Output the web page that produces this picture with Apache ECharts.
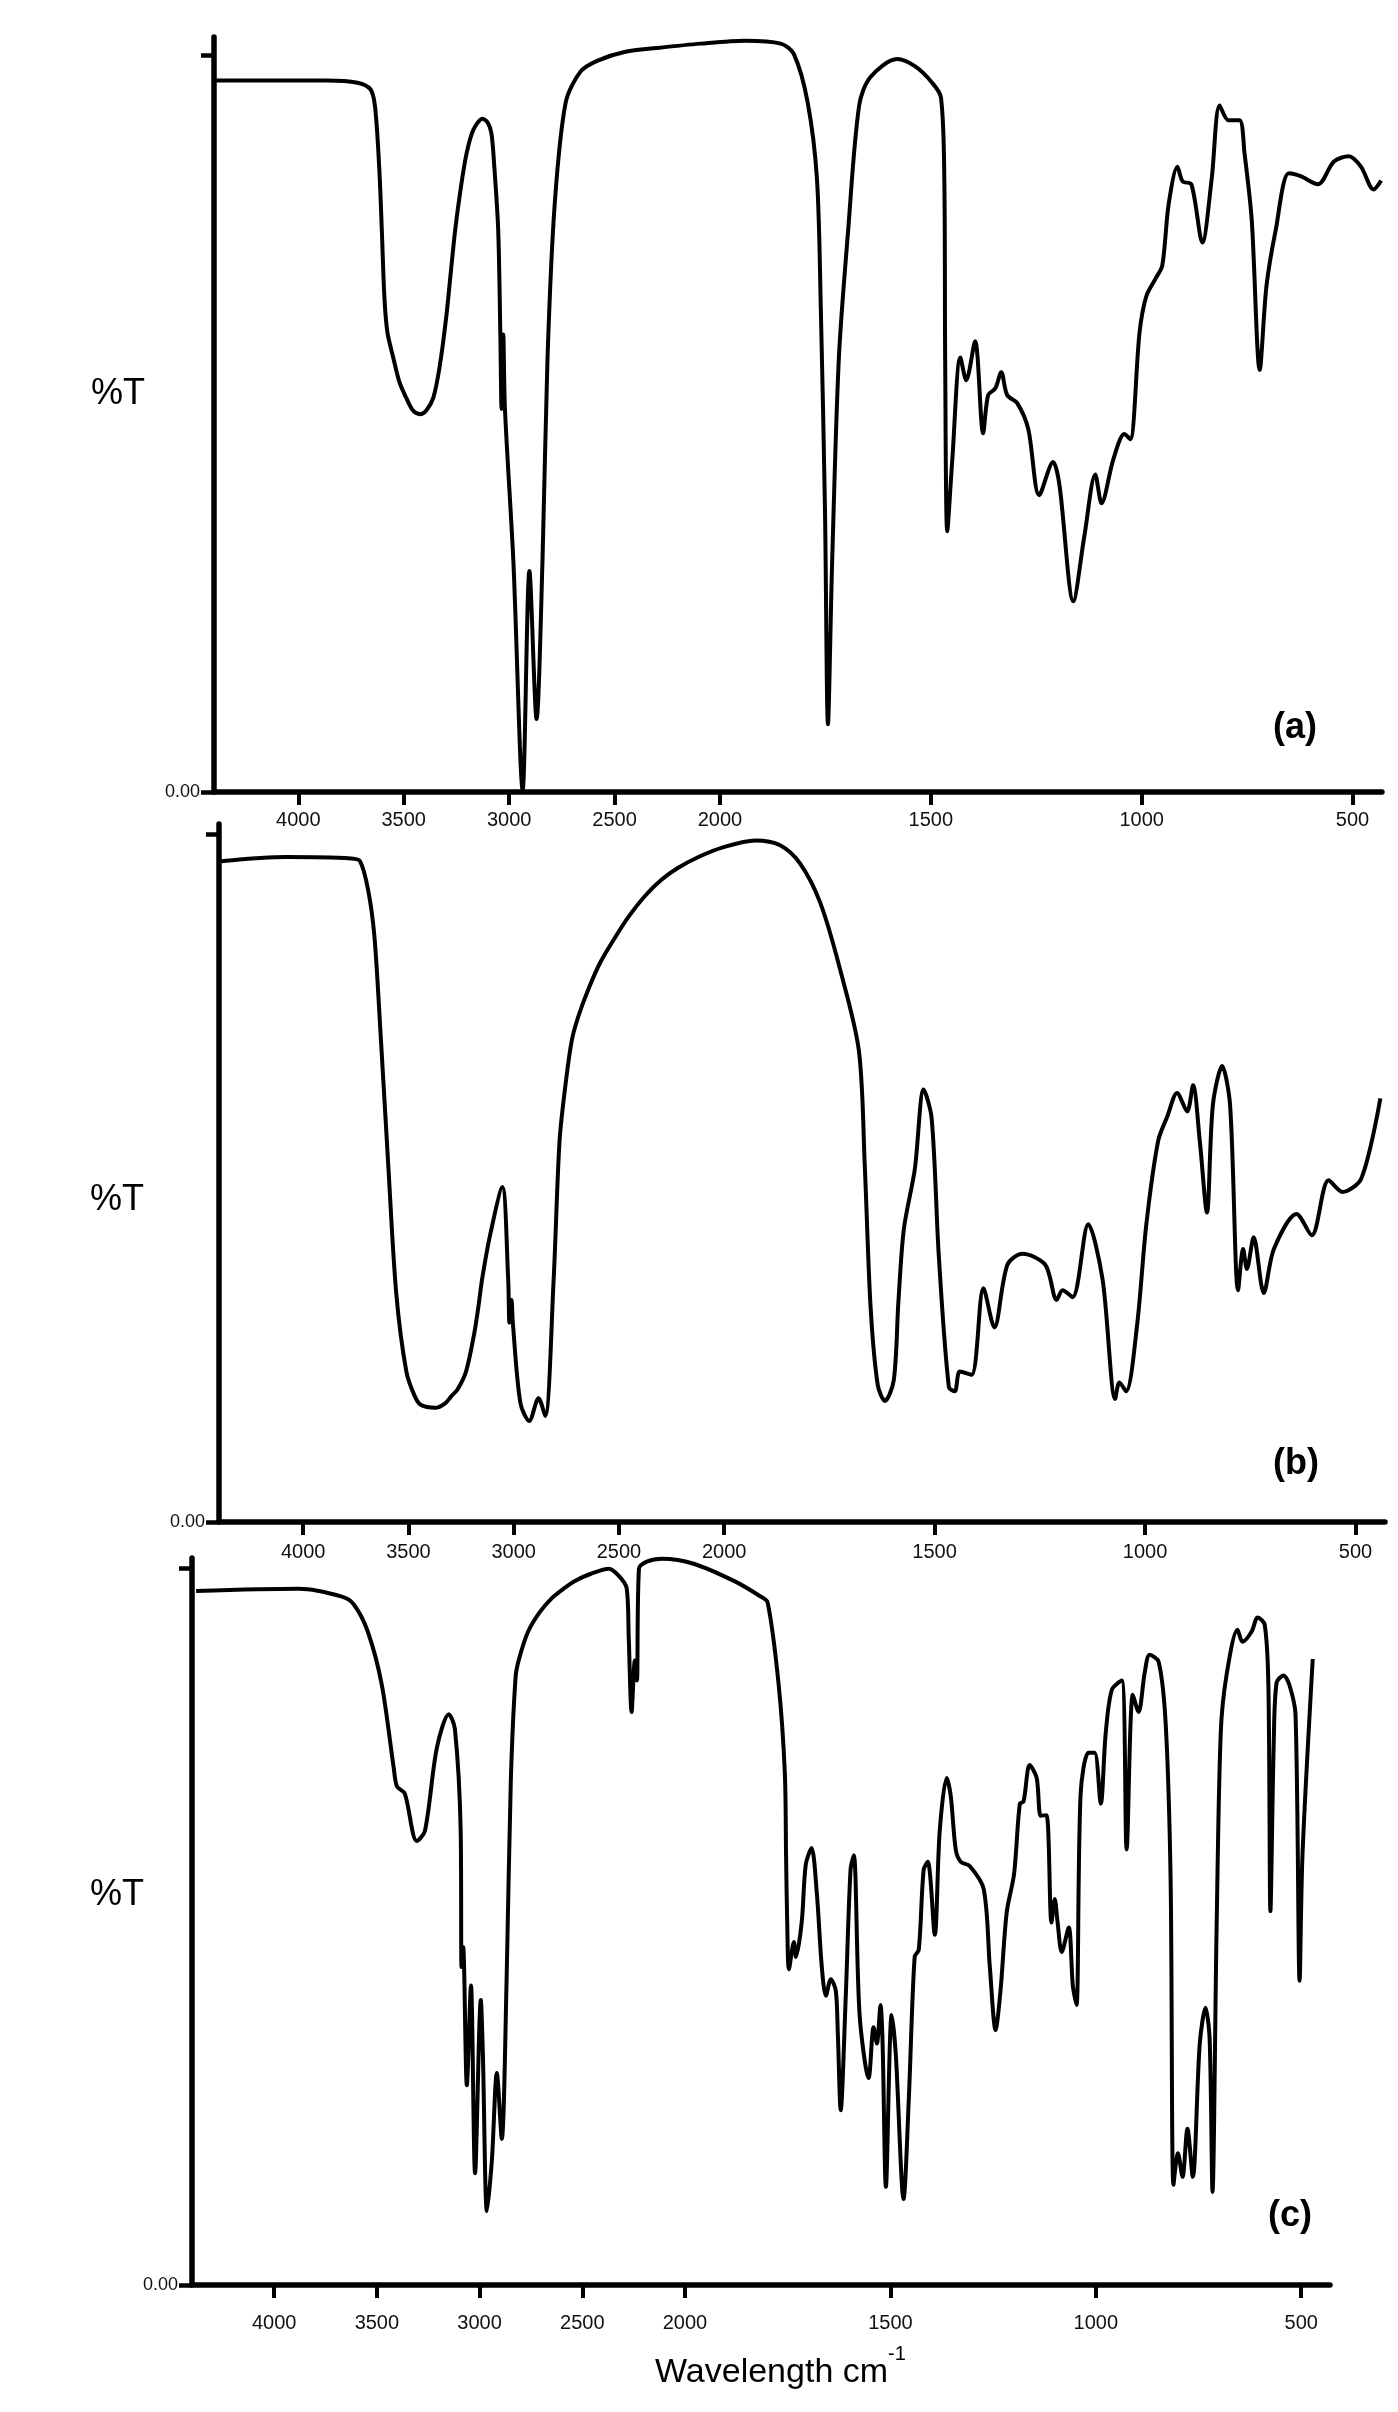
<!DOCTYPE html>
<html>
<head>
<meta charset="utf-8">
<title>FTIR spectra (a) (b) (c)</title>
<script src="https://cdn.jsdelivr.net/npm/echarts@6/dist/echarts.min.js"></script>
<style>
  html, body { margin: 0; padding: 0; background: #fff; }
  #chart { width: 1398px; height: 2412px; }
</style>
</head>
<body>
<div id="chart"></div>
<script>
// x 轴刻度（cm-1），2000 以上刻度压缩一半
const tickLabels = [4000, 3500, 3000, 2500, 2000, 1500, 1000, 500];
const panelNames = ["(a)", "(b)", "(c)"];

// 光谱 (a)
const wnA = [4400, 3868, 3720, 3658, 3636, 3616, 3604, 3592, 3578, 3550, 3520, 3488, 3456, 3422, 3393, 3360,
  3330, 3298, 3276, 3256, 3230, 3202, 3170, 3126, 3102, 3084, 3070,
  3052, 3042, 3036, 3028, 3020, 2980, 2936, 2904, 2870, 2842, 2818, 2784, 2732, 2662, 2580, 2448, 2300, 2092,
  1941, 1856, 1825, 1792, 1770, 1761, 1751, 1744, 1734, 1718, 1696, 1670, 1644, 1580, 1537, 1497,
  1476, 1468, 1466, 1461, 1449, 1430, 1416, 1395, 1376, 1364, 1347, 1333, 1319, 1295, 1269, 1243,
  1210, 1195, 1162, 1136, 1110, 1095, 1067, 1041, 1027, 1005, 989, 967, 951, 936, 915, 903,
  882, 856, 834, 815, 794, 768, 756, 739, 720, 704, 682, 651, 623, 582, 544, 509, 480, 450, 432];
const tA = [96.6, 96.6, 96.3, 95.4, 93, 84.6, 76.3, 67.3, 62.5, 59, 55.6, 53.5, 51.8, 51.3, 51.8, 53.5,
  57.7, 64.6, 70.8, 76.3, 81.9, 86.7, 89.9, 91.4, 90.9, 89.4, 84.7,
  76.3, 62.4, 52, 62.1, 52, 31.3, 0.3, 30, 9.9, 31.3, 59, 79.8, 93.6, 97.8, 99.3, 100.5, 101, 101.6,
  102, 101.6, 100.2, 93.6, 83.2, 65.9, 38.3, 9.2, 31.3, 59, 76.3, 93.2, 97, 99.5, 98.5, 96.3,
  94.3, 83.2, 59, 35.4, 45.2, 59, 55.9, 61.2, 48.7, 53.9, 54.8, 57, 53.9, 52.8, 49.3, 40.3,
  44.8, 41.7, 25.9, 34.7, 43.1, 39.2, 45.2, 48.6, 47.9, 62.4, 67.3, 69.7, 71.5, 79.8, 84.9, 82.9,
  82.5, 74.6, 83.2, 93.2, 91.2, 91.2, 86.7, 77.7, 57.3, 68.7, 76.3, 84, 83.6, 82.5, 85.6, 86.3, 84.9, 81.8, 83];

// 光谱 (b)
const wnB = [4390, 4080, 3772, 3730, 3692, 3662, 3634, 3596, 3558, 3510, 3470, 3440, 3372, 3324, 3296, 3266, 3226, 3188, 3168, 3150, 3110,
  3054, 3026, 3020, 3010, 3004, 2968, 2926, 2882, 2850, 2810, 2782, 2752, 2724, 2694, 2646, 2588, 2510, 2452, 2374, 2298, 2220,
  2122, 2006, 1926, 1867, 1819, 1772, 1726, 1680, 1666, 1652, 1635, 1618, 1597, 1586, 1573, 1547,
  1526, 1507, 1490, 1466, 1452, 1440, 1412, 1384, 1358, 1327, 1291, 1237, 1210, 1196, 1172, 1135,
  1101, 1071, 1061, 1045, 1019, 997, 969, 947, 924, 900, 886, 870, 853, 839, 817, 798,
  779, 767, 758, 742, 718, 694, 640, 604, 564, 531, 486, 441];
const tB = [96.1, 96.7, 96.5, 96.1, 92, 85.3, 71.9, 52, 33.3, 21.9, 18.3, 17, 16.6, 17.3, 18.3, 19.3, 21.9, 27.3, 31.2, 35.3, 42,
  48.7, 35.3, 29, 32.3, 29, 17.3, 14.7, 18, 15.4, 35.3, 55.4, 64, 70, 73.4, 77.4, 81.4, 85.4, 88.1, 91.1, 93.4, 95.1,
  96.7, 98.1, 99.1, 98.4, 95.7, 90.1, 80.7, 68.6, 52, 31.2, 19.9, 17.6, 20.6, 32, 42.6, 51.3,
  62.9, 58.7, 38.7, 19.6, 19, 21.9, 21.4, 34, 28.3, 37.4, 39, 37.4, 32.3, 33.7, 32.7, 43.3,
  35.3, 17.9, 20.3, 19, 28.6, 43.3, 55.4, 59, 62.4, 59.7, 63.5, 55.4, 45, 60.6, 66.3, 60.6,
  33.7, 39.7, 36.8, 41.4, 33.3, 39.7, 44.8, 41.7, 49.7, 48, 50, 61.6];

// 光谱 (c)
const wnC = [4380, 3880, 3670, 3612, 3544, 3476, 3418, 3402, 3364, 3306, 3266, 3208, 3150, 3120, 3092, 3088,
  3080, 3062, 3042, 3022, 2994, 2984, 2964, 2940, 2916, 2892, 2868, 2848, 2824, 2804, 2764, 2708, 2648, 2592, 2536, 2458,
  2370, 2322, 2284, 2274, 2260, 2244, 2234, 2224, 2186, 2112, 1979, 1881, 1818, 1799, 1772, 1757,
  1754, 1751, 1747, 1735, 1730, 1716, 1706, 1692, 1679, 1667, 1657, 1645, 1633, 1628, 1621, 1609,
  1597, 1589, 1575, 1553, 1541, 1533, 1524, 1519, 1511, 1497, 1487, 1468, 1455, 1441, 1431, 1419,
  1409, 1392, 1380, 1363, 1353, 1341, 1329, 1307, 1273, 1258, 1244, 1232, 1217, 1199, 1185, 1176,
  1161, 1144, 1134, 1120, 1108, 1100, 1093, 1083, 1066, 1056, 1047, 1037, 1018, 1003, 988, 976,
  961, 937, 925, 910, 896, 881, 869, 847, 830, 818, 811, 800, 789, 777, 764, 747,
  733, 723, 716, 706, 696, 682, 655, 643, 621, 606, 589, 580, 575, 567, 560, 543,
  529, 514, 504, 497, 472];
const tC = [96.9, 97.2, 96.1, 95, 91.2, 83.8, 72.2, 69.6, 68.6, 62, 63.4, 75, 79.7, 77.6, 63.4, 44.4,
  47.2, 27.9, 41.8, 15.6, 39.8, 32.3, 10.3, 17.5, 29.6, 20.4, 43.2, 70.3, 85.1, 87.8, 91.2, 93.9, 95.9, 97.2, 98.3, 99.3,
  100, 99, 97.3, 90.5, 80, 87.2, 84.4, 100, 101, 101.4, 100.7, 98.3, 96.2, 95.3, 83.8, 71.5,
  60, 50, 44.1, 47.9, 45.8, 50.6, 58.7, 61, 54.6, 44.4, 40.4, 42.7, 41.1, 35.1, 24.4, 39.8,
  58, 60, 37.7, 28.9, 36, 33.7, 39.1, 33.7, 13.7, 37.7, 32.3, 12, 26.3, 45.8, 46.8, 58,
  59.1, 48.9, 63.4, 70.8, 68.2, 60.8, 59.1, 58.5, 55.3, 44.4, 35.6, 41.1, 52, 57.4, 67.2, 67.5,
  72.6, 70.8, 65.5, 65.6, 50.6, 53.9, 50.6, 46.5, 49.9, 41.8, 39.1, 68.6, 74.3, 74.3, 67.2, 77,
  83.1, 84.4, 60.8, 82.4, 80, 85.5, 88, 87, 78.4, 56.7, 14, 18.4, 15.1, 21.8, 15.1, 33.7,
  38.7, 34.4, 13, 49.9, 77, 85.1, 91.5, 89.8, 91.2, 93.2, 92.2, 83.8, 52.2, 75.6, 84.1, 85.1,
  83.8, 79.7, 42.5, 60, 87.4];

const BREAK = 2000;
const toAxis = (wn) => (wn > BREAK ? BREAK + (wn - BREAK) / 2 : wn);
const fromAxis = (u) => (u > BREAK ? BREAK + (u - BREAK) * 2 : u);

const FONT = "Liberation Sans, Arial, sans-serif";
const grids = [
  { left: 214, top: 37, width: 1168, height: 755 },
  { left: 219, top: 824, width: 1166, height: 698 },
  { left: 192, top: 1558, width: 1138, height: 727 },
];
const yMax = [102.5, 101.5, 101.5];
const labelGap = [18, 20, 28];
const spectra = [[wnA, tA], [wnB, tB], [wnC, tC]];
const tickPos = tickLabels.map(toAxis);

const xAxes = grids.map((g, i) => ({
  type: "value",
  gridIndex: i,
  min: 430,
  max: 3200,
  inverse: true,
  splitLine: { show: false },
  axisLine: { lineStyle: { color: "#000", width: 5.5 } },
  axisTick: { customValues: tickPos, length: 13, lineStyle: { color: "#000", width: 4 } },
  axisLabel: {
    customValues: tickPos,
    formatter: (v) => String(Math.round(fromAxis(v))),
    color: "#111",
    fontSize: 20,
    fontFamily: FONT,
    margin: labelGap[i],
  },
}));

const yAxes = grids.map((g, i) => ({
  type: "value",
  gridIndex: i,
  min: 0,
  max: yMax[i],
  splitLine: { show: false },
  axisLine: { show: true, lineStyle: { color: "#000", width: 5.5 } },
  axisTick: { show: true, customValues: [0, 100], length: 13, lineStyle: { color: "#000", width: 4.5 } },
  axisLabel: {
    customValues: [0],
    showMinLabel: true,
    formatter: () => "0.00",
    color: "#111",
    fontSize: 18,
    fontFamily: FONT,
    margin: 14,
  },
}));

const series = spectra.map(([wn, t], i) => ({
  type: "line",
  xAxisIndex: i,
  yAxisIndex: i,
  data: wn.map((w, j) => [toAxis(w), t[j]]),
  showSymbol: false,
  smooth: 0.3,
  lineStyle: { color: "#000", width: 4 },
  silent: true,
}));

const percentPos = [[118, 394], [117, 1200], [117, 1895]];
const namePos = [[1295, 728], [1296, 1464], [1290, 2216]];
const graphic = [];
percentPos.forEach(([x, y]) => {
  graphic.push({
    type: "text", x, y,
    style: { text: "%T", font: `36px ${FONT}`, fill: "#000", textAlign: "center", textVerticalAlign: "middle" },
  });
});
namePos.forEach(([x, y], i) => {
  graphic.push({
    type: "text", x, y,
    style: { text: panelNames[i], font: `bold 36px ${FONT}`, fill: "#000", textAlign: "center", textVerticalAlign: "middle" },
  });
});
graphic.push({
  type: "text", x: 655, y: 2373,
  style: { text: "Wavelength cm", font: `34px ${FONT}`, fill: "#000", textAlign: "left", textVerticalAlign: "middle" },
});
graphic.push({
  type: "text", x: 888, y: 2354,
  style: { text: "-1", font: `20px ${FONT}`, fill: "#000", textAlign: "left", textVerticalAlign: "middle" },
});

const chart = echarts.init(document.getElementById("chart"), null, { renderer: "canvas" });
chart.setOption({
  backgroundColor: "#fff",
  animation: false,
  grid: grids,
  xAxis: xAxes,
  yAxis: yAxes,
  series,
  graphic,
});
window.addEventListener("resize", () => chart.resize());
</script>
</body>
</html>
